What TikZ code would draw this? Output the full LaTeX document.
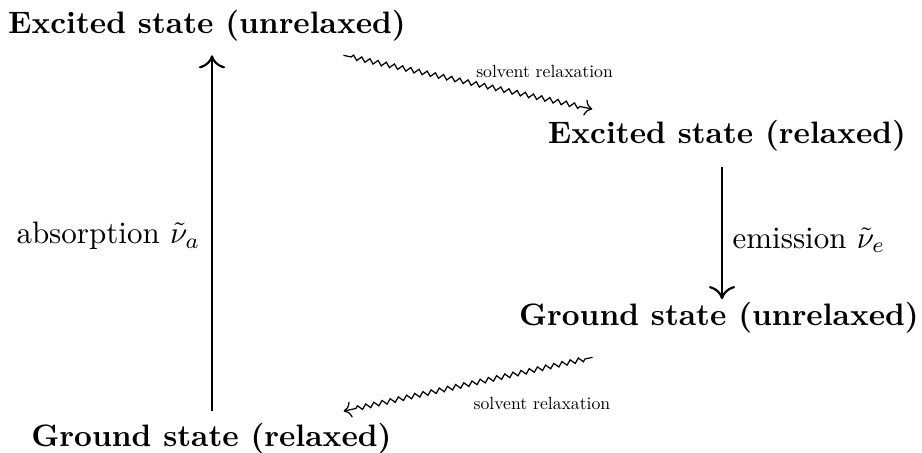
\documentclass[tikz,border=0pt]{standalone}
\usetikzlibrary{decorations.pathmorphing,arrows.meta,calc}
\begin{document}
\begin{tikzpicture}[x=0.3226pt,y=-0.3226pt,
  state/.style={font=\bfseries, inner sep=0pt, anchor=base},
  lbl/.style={inner sep=0pt},
  small/.style={inner sep=0pt},
  bigarrow/.style={line width=0.7pt, -{To[length=4.2pt,width=8.4pt]}},
  wavy/.style={line width=0.4pt, ->, decorate,
    decoration={zigzag, segment length=2.7pt, amplitude=0.75pt, pre length=2.5pt, post length=3pt}}]
\useasboundingbox (0,0) rectangle (922,453);
\node[state] (esu) at (207,34) {Excited state (unrelaxed)};
\node[state] (esr) at (727,144) {Excited state (relaxed)};
\node[state] (gsu) at (719,326) {Ground state (unrelaxed)};
\node[state] (gsr) at (211.5,447) {Ground state (relaxed)};
\draw[bigarrow] ($(gsr.north)+(0.5,-12)$) -- ($(esu.south)+(5,13)$);
\draw[bigarrow] ($(esr.south)+(-5,15)$) -- ($(gsu.north)+(3,-3)$);
\node[lbl, anchor=east] (abs) at (201,236) {absorption $\tilde{\nu}_a$};
\node[lbl, anchor=west] (emi) at (732,240) {emission $\tilde{\nu}_e$};
\draw[wavy] ($(esu.south east)+(-63,13)$) -- ($(esr.north west)+(45,-11)$)
  node[small, pos=0.5, anchor=base west, xshift=2.5pt, yshift=1.6pt] (sr1) {\scalebox{0.57}{solvent relaxation}};
\draw[wavy] ($(gsu.south west)+(74,23)$) -- ($(gsr.north east)+(-48.5,-12)$)
  node[small, pos=0.5, anchor=base west, xshift=1.6pt, yshift=-8.2pt] (sr2) {\scalebox{0.57}{solvent relaxation}};
\end{tikzpicture}
\end{document}
